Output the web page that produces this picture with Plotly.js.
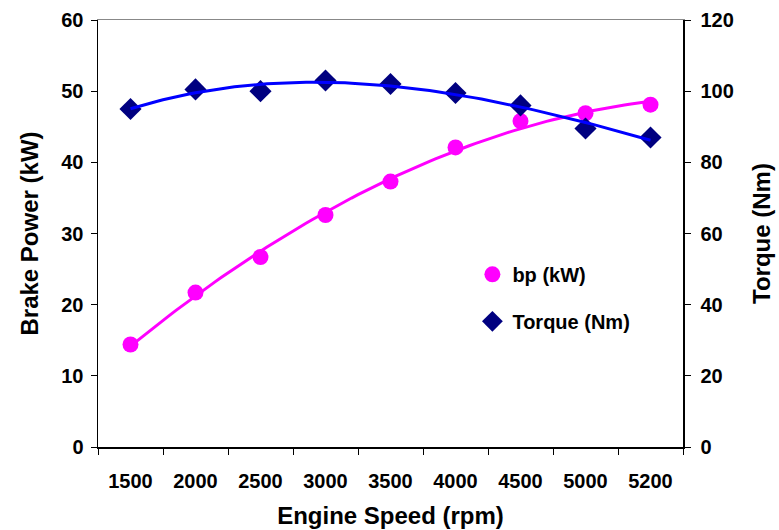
<!DOCTYPE html>
<html>
<head>
<meta charset="utf-8">
<script src="https://cdn.plot.ly/plotly-3.0.1.min.js"></script>
<style>html,body{margin:0;padding:0;background:#fff;}#chart{width:779px;height:530px;}</style>
</head>
<body>
<div id="chart"></div>
<script>
// ---- data ----
const speeds = ["1500", "2000", "2500", "3000", "3500", "4000", "4500", "5000", "5200"];
const bp = [14.4, 21.7, 26.7, 32.6, 37.3, 42.1, 45.8, 46.9, 48.1];
const torque = [95, 100.5, 100, 103, 102, 99.5, 96, 89.5, 87];
const bpTrendOrder = 2;
const torqueTrendOrder = 3;

// least-squares polynomial trendline (like the spreadsheet's trendline), on category index
function polyfit(ys, order) {
  const n = order + 1;
  const A = [], b = [];
  for (let i = 0; i < n; i++) { A.push(new Array(n).fill(0)); b.push(0); }
  ys.forEach((y, k) => {
    for (let i = 0; i < n; i++) {
      b[i] += y * Math.pow(k, i);
      for (let j = 0; j < n; j++) A[i][j] += Math.pow(k, i + j);
    }
  });
  for (let c = 0; c < n; c++) {
    let p = c;
    for (let r = c + 1; r < n; r++) if (Math.abs(A[r][c]) > Math.abs(A[p][c])) p = r;
    [A[c], A[p]] = [A[p], A[c]]; [b[c], b[p]] = [b[p], b[c]];
    for (let r = 0; r < n; r++) {
      if (r === c) continue;
      const f = A[r][c] / A[c][c];
      for (let j = c; j < n; j++) A[r][j] -= f * A[c][j];
      b[r] -= f * b[c];
    }
  }
  return b.map((v, i) => v / A[i][i]);
}
function trend(ys, order) {
  const co = polyfit(ys, order);
  const xs = [], out = [];
  const steps = 80;
  for (let s = 0; s <= steps; s++) {
    const x = (ys.length - 1) * s / steps;
    xs.push(x);
    out.push(co.reduce((acc, c, i) => acc + c * Math.pow(x, i), 0));
  }
  return {x: xs, y: out};
}
const bpT = trend(bp, bpTrendOrder);
const tqT = trend(torque, torqueTrendOrder);

const font = "Liberation Sans, Arial, sans-serif";

const traces = [
  {x: bpT.x, y: bpT.y, xaxis: 'x2', yaxis: 'y', mode: 'lines', line: {color: '#FF00FF', width: 3}, showlegend: false, hoverinfo: 'skip'},
  {x: tqT.x, y: tqT.y, xaxis: 'x2', yaxis: 'y2', mode: 'lines', line: {color: '#0000FF', width: 3}, showlegend: false, hoverinfo: 'skip'},
  {x: speeds, y: bp, name: 'bp (kW)', mode: 'markers', xaxis: 'x', yaxis: 'y', legendgroup: 'a',
   marker: {symbol: 'circle', size: 16, color: '#FF00FF'}},
  {x: speeds, y: torque, name: 'Torque (Nm)', mode: 'markers', xaxis: 'x', yaxis: 'y2', legendgroup: 'b',
   marker: {symbol: 'diamond', size: 17, color: '#000080'}}
];

const layout = {
  width: 779, height: 530,
  margin: {l: 98, r: 96, t: 20, b: 83},
  paper_bgcolor: '#fff', plot_bgcolor: '#fff',
  font: {family: font, color: '#000', size: 20},
  showlegend: true,
  legend: {x: 0.64, y: 0.45, xanchor: 'left', yanchor: 'top', bgcolor: 'rgba(0,0,0,0)',
           font: {family: font, size: 20, weight: 'bold'}, traceorder: 'grouped', tracegroupgap: 18},
  xaxis: {type: 'category', range: [-0.5, 8.5], tickson: 'boundaries', ticks: 'outside', ticklen: 6,
          tickcolor: '#000', showline: true, linecolor: '#000', linewidth: 1.5, showgrid: false, zeroline: false,
          tickfont: {family: font, size: 20, weight: 'bold'}, ticklabelstandoff: 15,
          title: {text: 'Engine Speed (rpm)', font: {family: font, size: 24, weight: 'bold'}, standoff: 16}},
  xaxis2: {overlaying: 'x', side: 'top', range: [-0.5, 8.5], showticklabels: false, ticks: '', showgrid: false,
           zeroline: false, showline: true, linecolor: '#888', linewidth: 1},
  yaxis: {range: [0, 60], dtick: 10, ticks: 'outside', ticklen: 6, tickcolor: '#000', showline: true,
          linecolor: '#000', linewidth: 1.5, showgrid: false, zeroline: false,
          tickfont: {family: font, size: 20, weight: 'bold'}, ticklabelstandoff: 3,
          title: {text: 'Brake Power (kW)', font: {family: font, size: 24, weight: 'bold'}, standoff: 16}},
  yaxis2: {overlaying: 'y', side: 'right', range: [0, 120], dtick: 20, ticks: 'outside', ticklen: 6,
           tickcolor: '#000', showline: true, linecolor: '#000', linewidth: 1.5, showgrid: false, zeroline: false,
           tickfont: {family: font, size: 20, weight: 'bold'}, ticklabelstandoff: 6,
           title: {text: 'Torque (Nm)', font: {family: font, size: 24, weight: 'bold'}, standoff: 20}}
};

Plotly.newPlot('chart', traces, layout, {displayModeBar: false, staticPlot: true});
</script>
</body>
</html>
